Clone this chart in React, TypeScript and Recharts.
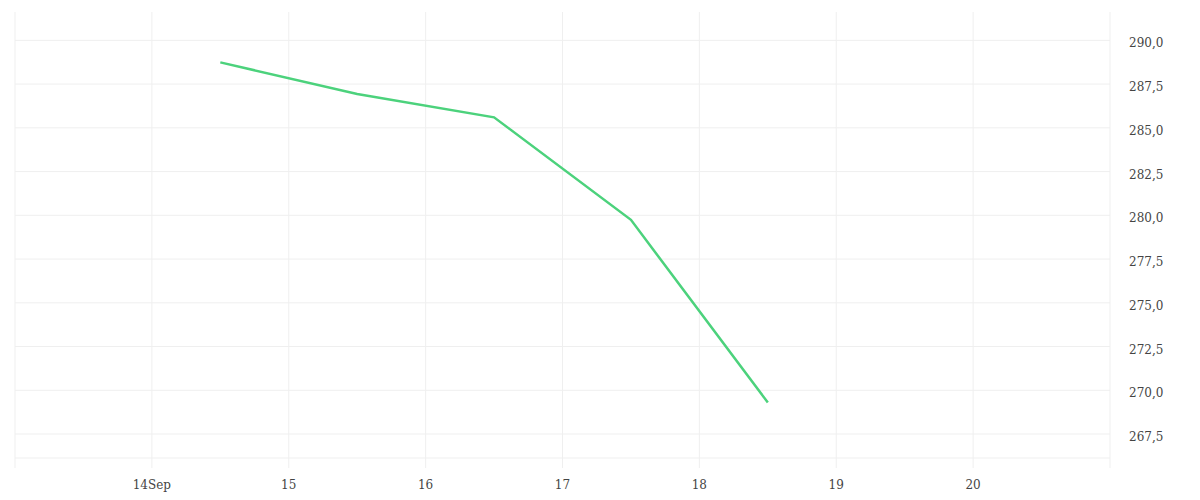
import { LineChart, Line, XAxis, YAxis, CartesianGrid } from 'recharts'

// day of September (mid-day samples)
const days = [14.5, 15.5, 16.5, 17.5, 18.5]
const prices = [288.74, 286.93, 285.6, 279.74, 269.3]

const xTicks = [13, 14, 15, 16, 17, 18, 19, 20, 21]
const yTicks = [267.5, 270, 272.5, 275, 277.5, 280, 282.5, 285, 287.5, 290]

const data = days.map((d, i) => ({ day: d, price: prices[i] }))

const GRID = '#efefef'
const TEXT = '#444'
const FONT = '"DejaVu Serif", serif'

const fmtX = (v: number) => {
  if (v === 13 || v === 21) return ''
  return v === 14 ? '14Sep' : String(v)
}

const fmtY = (v: number) => v.toFixed(1).replace('.', ',')

function XTick(props: any) {
  const { x, y, payload } = props
  return (
    <text x={x} y={y + 19} textAnchor="middle" fill={TEXT} fontSize={12} fontFamily={FONT}>
      {fmtX(payload.value)}
    </text>
  )
}

function YTick(props: any) {
  const { x, y, payload } = props
  return (
    <text x={x + 7} y={y + 7} textAnchor="start" fill={TEXT} fontSize={12} fontFamily={FONT}>
      {fmtY(payload.value)}
    </text>
  )
}

export default function App() {
  return (
    <div style={{ width: 1184, height: 484, background: '#fff' }}>
      <LineChart
        width={1184}
        height={484}
        data={data}
        margin={{ top: 4, right: 0, left: 7, bottom: 0 }}
      >
        <CartesianGrid
          stroke={GRID}
          horizontalValues={yTicks}
          verticalValues={xTicks}
        />
        <XAxis
          dataKey="day"
          type="number"
          domain={[13, 21]}
          ticks={xTicks}
          height={34}
          axisLine={{ stroke: GRID }}
          tickLine={{ stroke: GRID }}
          tickSize={10}
          tick={<XTick />}
          interval={0}
        />
        <YAxis
          orientation="right"
          type="number"
          domain={[266.13, 291.62]}
          ticks={yTicks}
          width={82}
          axisLine={false}
          tickLine={false}
          tickSize={10}
          tick={<YTick />}
          interval={0}
        />
        <Line
          type="linear"
          dataKey="price"
          stroke="#4cd27c"
          strokeWidth={2.5}
          dot={false}
          isAnimationActive={false}
        />
      </LineChart>
    </div>
  )
}
